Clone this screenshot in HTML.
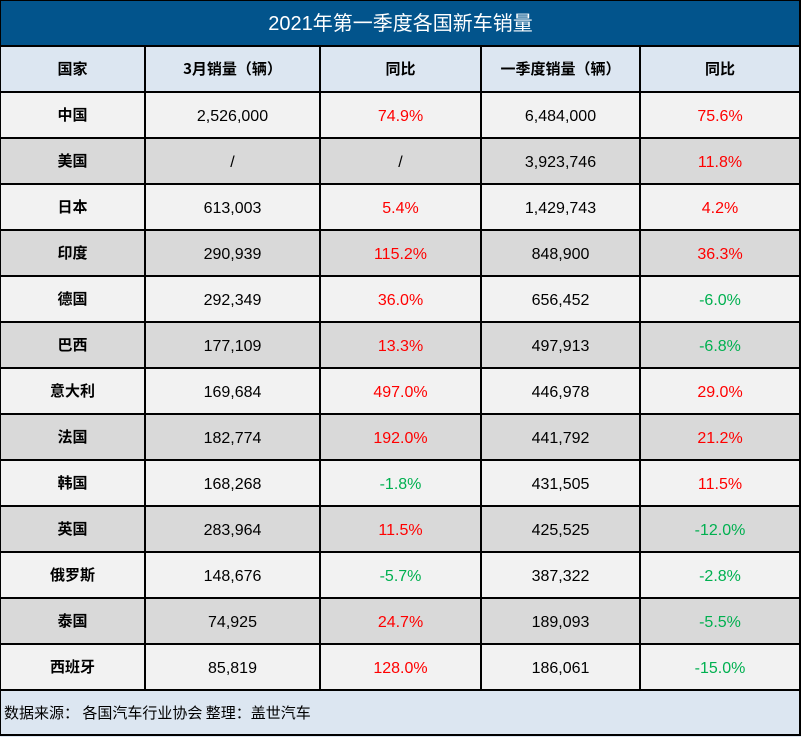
<!DOCTYPE html>
<html><head><meta charset="utf-8"><style>
html,body{margin:0;padding:0;background:#fff;}
body{width:801px;height:737px;position:relative;overflow:hidden;font-family:"Liberation Sans","Noto Sans CJK SC",sans-serif;}
.bg{position:absolute;left:0;width:801px;}
.h{position:absolute;height:2px;background:#000;left:0;width:801px;}
.v{position:absolute;width:2px;background:#000;}
.c{position:absolute;height:46px;line-height:46px;text-align:center;font-size:16px;color:#000;padding-top:2px;box-sizing:border-box;}
.k{font-family:"Noto Sans CJK SC","Liberation Sans",sans-serif;font-size:15px;font-weight:bold;padding-top:0;}
.r{color:#ff0000;}
.g{color:#00b050;}
</style></head><body>
<div class="bg" style="top:0;height:46px;background:#02548c;"></div>
<div class="bg" style="top:46px;height:46px;background:#dce6f1;"></div>
<div class="bg" style="top:92px;height:46px;background:#f2f2f2;"></div>
<div class="bg" style="top:138px;height:46px;background:#d9d9d9;"></div>
<div class="bg" style="top:184px;height:46px;background:#f2f2f2;"></div>
<div class="bg" style="top:230px;height:46px;background:#d9d9d9;"></div>
<div class="bg" style="top:276px;height:46px;background:#f2f2f2;"></div>
<div class="bg" style="top:322px;height:46px;background:#d9d9d9;"></div>
<div class="bg" style="top:368px;height:46px;background:#f2f2f2;"></div>
<div class="bg" style="top:414px;height:46px;background:#d9d9d9;"></div>
<div class="bg" style="top:460px;height:46px;background:#f2f2f2;"></div>
<div class="bg" style="top:506px;height:46px;background:#d9d9d9;"></div>
<div class="bg" style="top:552px;height:46px;background:#f2f2f2;"></div>
<div class="bg" style="top:598px;height:46px;background:#d9d9d9;"></div>
<div class="bg" style="top:644px;height:46px;background:#f2f2f2;"></div>
<div class="bg" style="top:690px;height:47px;background:#dce6f1;"></div>

<div style="position:absolute;left:0;top:1px;width:801px;height:46px;line-height:46px;text-align:center;color:#fff;font-size:20px;font-family:'Liberation Sans','Noto Sans CJK SC',sans-serif;">2021年第一季度各国新车销量</div>

<!-- lines -->
<div class="h" style="top:0;height:1px;"></div>
<div class="h" style="top:45px;"></div>
<div class="h" style="top:91px;"></div>
<div class="h" style="top:137px;"></div>
<div class="h" style="top:183px;"></div>
<div class="h" style="top:229px;"></div>
<div class="h" style="top:275px;"></div>
<div class="h" style="top:321px;"></div>
<div class="h" style="top:367px;"></div>
<div class="h" style="top:413px;"></div>
<div class="h" style="top:459px;"></div>
<div class="h" style="top:505px;"></div>
<div class="h" style="top:551px;"></div>
<div class="h" style="top:597px;"></div>
<div class="h" style="top:643px;"></div>
<div class="h" style="top:689px;"></div>
<div class="h" style="top:734px;"></div>
<div class="v" style="left:0;top:0;height:736px;width:1px;"></div>
<div class="v" style="left:799px;top:0;height:736px;"></div>
<div class="v" style="left:144px;top:46px;height:644px;"></div>
<div class="v" style="left:319px;top:46px;height:644px;"></div>
<div class="v" style="left:480px;top:46px;height:644px;"></div>
<div class="v" style="left:639px;top:46px;height:644px;"></div>

<!-- header -->
<div class="c k" style="top:46px;left:0;width:145px;">国家</div>
<div class="c k" style="top:46px;left:145px;width:175px;">3月销量（辆）</div>
<div class="c k" style="top:46px;left:320px;width:161px;">同比</div>
<div class="c k" style="top:46px;left:481px;width:159px;">一季度销量（辆）</div>
<div class="c k" style="top:46px;left:640px;width:160px;">同比</div>

<!-- rows -->
<div class="c k" style="top:92px;left:0;width:145px;">中国</div>
<div class="c" style="top:92px;left:145px;width:175px;">2,526,000</div>
<div class="c r" style="top:92px;left:320px;width:161px;">74.9%</div>
<div class="c" style="top:92px;left:481px;width:159px;">6,484,000</div>
<div class="c r" style="top:92px;left:640px;width:160px;">75.6%</div>

<div class="c k" style="top:138px;left:0;width:145px;">美国</div>
<div class="c" style="top:138px;left:145px;width:175px;">/</div>
<div class="c" style="top:138px;left:320px;width:161px;">/</div>
<div class="c" style="top:138px;left:481px;width:159px;">3,923,746</div>
<div class="c r" style="top:138px;left:640px;width:160px;">11.8%</div>

<div class="c k" style="top:184px;left:0;width:145px;">日本</div>
<div class="c" style="top:184px;left:145px;width:175px;">613,003</div>
<div class="c r" style="top:184px;left:320px;width:161px;">5.4%</div>
<div class="c" style="top:184px;left:481px;width:159px;">1,429,743</div>
<div class="c r" style="top:184px;left:640px;width:160px;">4.2%</div>

<div class="c k" style="top:230px;left:0;width:145px;">印度</div>
<div class="c" style="top:230px;left:145px;width:175px;">290,939</div>
<div class="c r" style="top:230px;left:320px;width:161px;">115.2%</div>
<div class="c" style="top:230px;left:481px;width:159px;">848,900</div>
<div class="c r" style="top:230px;left:640px;width:160px;">36.3%</div>

<div class="c k" style="top:276px;left:0;width:145px;">德国</div>
<div class="c" style="top:276px;left:145px;width:175px;">292,349</div>
<div class="c r" style="top:276px;left:320px;width:161px;">36.0%</div>
<div class="c" style="top:276px;left:481px;width:159px;">656,452</div>
<div class="c g" style="top:276px;left:640px;width:160px;">-6.0%</div>

<div class="c k" style="top:322px;left:0;width:145px;">巴西</div>
<div class="c" style="top:322px;left:145px;width:175px;">177,109</div>
<div class="c r" style="top:322px;left:320px;width:161px;">13.3%</div>
<div class="c" style="top:322px;left:481px;width:159px;">497,913</div>
<div class="c g" style="top:322px;left:640px;width:160px;">-6.8%</div>

<div class="c k" style="top:368px;left:0;width:145px;">意大利</div>
<div class="c" style="top:368px;left:145px;width:175px;">169,684</div>
<div class="c r" style="top:368px;left:320px;width:161px;">497.0%</div>
<div class="c" style="top:368px;left:481px;width:159px;">446,978</div>
<div class="c r" style="top:368px;left:640px;width:160px;">29.0%</div>

<div class="c k" style="top:414px;left:0;width:145px;">法国</div>
<div class="c" style="top:414px;left:145px;width:175px;">182,774</div>
<div class="c r" style="top:414px;left:320px;width:161px;">192.0%</div>
<div class="c" style="top:414px;left:481px;width:159px;">441,792</div>
<div class="c r" style="top:414px;left:640px;width:160px;">21.2%</div>

<div class="c k" style="top:460px;left:0;width:145px;">韩国</div>
<div class="c" style="top:460px;left:145px;width:175px;">168,268</div>
<div class="c g" style="top:460px;left:320px;width:161px;">-1.8%</div>
<div class="c" style="top:460px;left:481px;width:159px;">431,505</div>
<div class="c r" style="top:460px;left:640px;width:160px;">11.5%</div>

<div class="c k" style="top:506px;left:0;width:145px;">英国</div>
<div class="c" style="top:506px;left:145px;width:175px;">283,964</div>
<div class="c r" style="top:506px;left:320px;width:161px;">11.5%</div>
<div class="c" style="top:506px;left:481px;width:159px;">425,525</div>
<div class="c g" style="top:506px;left:640px;width:160px;">-12.0%</div>

<div class="c k" style="top:552px;left:0;width:145px;">俄罗斯</div>
<div class="c" style="top:552px;left:145px;width:175px;">148,676</div>
<div class="c g" style="top:552px;left:320px;width:161px;">-5.7%</div>
<div class="c" style="top:552px;left:481px;width:159px;">387,322</div>
<div class="c g" style="top:552px;left:640px;width:160px;">-2.8%</div>

<div class="c k" style="top:598px;left:0;width:145px;">泰国</div>
<div class="c" style="top:598px;left:145px;width:175px;">74,925</div>
<div class="c r" style="top:598px;left:320px;width:161px;">24.7%</div>
<div class="c" style="top:598px;left:481px;width:159px;">189,093</div>
<div class="c g" style="top:598px;left:640px;width:160px;">-5.5%</div>

<div class="c k" style="top:644px;left:0;width:145px;">西班牙</div>
<div class="c" style="top:644px;left:145px;width:175px;">85,819</div>
<div class="c r" style="top:644px;left:320px;width:161px;">128.0%</div>
<div class="c" style="top:644px;left:481px;width:159px;">186,061</div>
<div class="c g" style="top:644px;left:640px;width:160px;">-15.0%</div>

<div style="position:absolute;left:4px;top:690px;height:45px;line-height:45px;font-size:15px;font-family:'Noto Sans CJK SC','Liberation Sans',sans-serif;color:#000;white-space:nowrap;">数据来源：&nbsp;各国汽车行业协会 整理：盖世汽车</div>
</body></html>
